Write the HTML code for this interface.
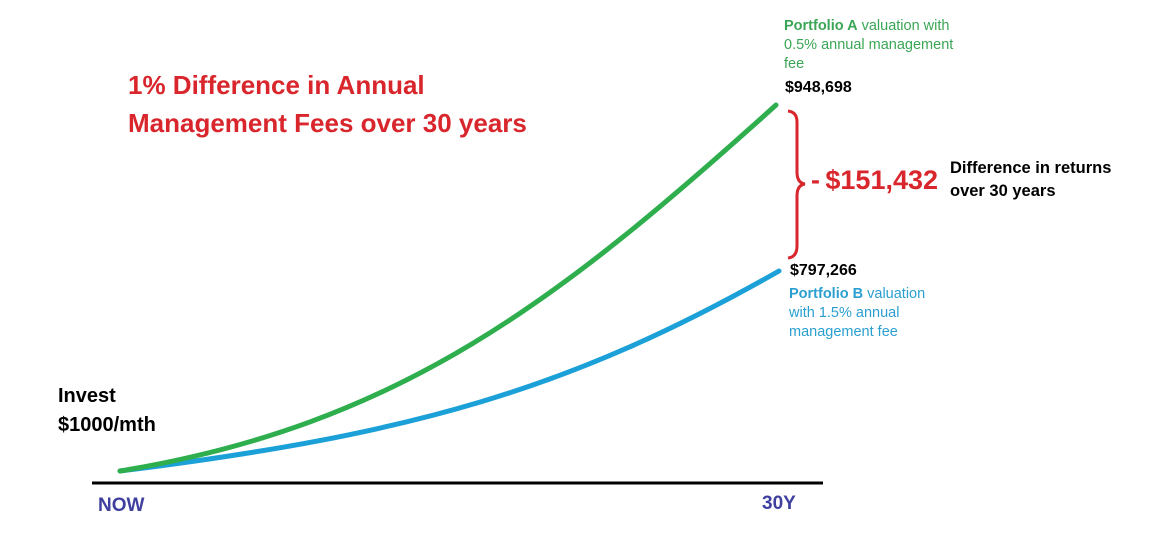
<!DOCTYPE html>
<html><head><style>
body{margin:0;width:1163px;height:539px;background:#fff;position:relative;overflow:hidden;font-family:"Liberation Sans",sans-serif}
.t{position:absolute;white-space:nowrap}
</style></head><body>
<svg width="1163" height="539" style="position:absolute;left:0;top:0">
<line x1="92" y1="483" x2="823" y2="483" stroke="#000" stroke-width="3"/>
<path d="M120,471 C410,435 570,390 779,271" fill="none" stroke="#1ba0d8" stroke-width="5" stroke-linecap="round"/>
<path d="M120,471 C400,425 560,300 776,105" fill="none" stroke="#2fae4e" stroke-width="5" stroke-linecap="round"/>
<path d="M788,111 Q797,112 797,122 L797,172 Q797,183 805,184 Q797,185 797,196 L797,246 Q797,257 788,258" fill="none" stroke="#d9262c" stroke-width="3"/>
</svg>
<div class="t" style="left:128px;top:66px;color:#d9262c;font-weight:bold;font-size:26px;line-height:38px">1% Difference in Annual<br>Management Fees over 30 years</div>
<div class="t" style="left:784px;top:17px;color:#3aa655;font-size:14.5px;line-height:19px"><b>Portfolio A</b> valuation with<br>0.5% annual management<br>fee</div>
<div class="t" style="left:785px;top:79px;font-weight:bold;font-size:16px">$948,698</div>
<div class="t" style="left:790px;top:262px;font-weight:bold;font-size:16px">$797,266</div>
<div class="t" style="left:789px;top:285px;color:#2a9fd0;font-size:14.5px;line-height:19px"><b>Portfolio B</b> valuation<br>with 1.5% annual<br>management fee</div>
<div class="t" style="left:811px;top:165px;color:#d9262c;font-weight:bold;font-size:27px">-&thinsp;$151,432</div>
<div class="t" style="left:950px;top:157px;font-weight:bold;font-size:16.5px;line-height:23px">Difference in returns<br>over 30 years</div>
<div class="t" style="left:58px;top:382px;font-weight:bold;font-size:20px;line-height:29px">Invest<br>$1000/mth</div>
<div class="t" style="left:98px;top:495px;color:#3f3fa0;font-weight:bold;font-size:19px">NOW</div>
<div class="t" style="left:762px;top:493px;color:#3f3fa0;font-weight:bold;font-size:19px">30Y</div>
</body></html>
